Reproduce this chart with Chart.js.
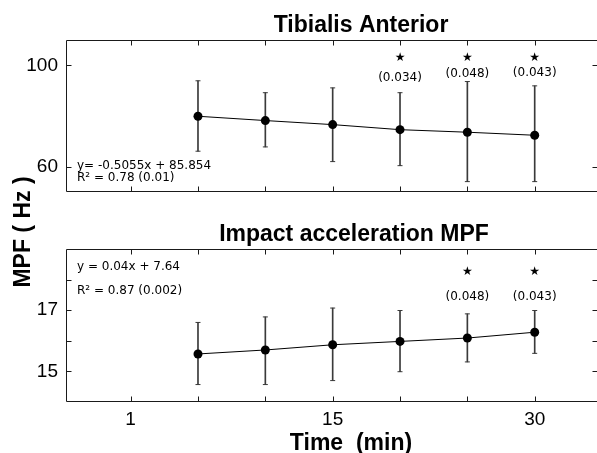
<!DOCTYPE html>
<html>
<head>
<meta charset="utf-8">
<script src="https://cdn.jsdelivr.net/npm/chart.js@4.4.1/dist/chart.umd.min.js"></script>
<style>
  html, body { margin: 0; padding: 0; background: #fff; }
  #wrap { position: relative; width: 597px; height: 453px; overflow: hidden; background: #fff; }
  #wrap canvas { position: absolute; left: 0; top: 0; }
</style>
</head>
<body>
<div id="wrap">
  <canvas id="tibialis" width="603" height="453"></canvas>
  <canvas id="impact" width="603" height="453"></canvas>
</div>
<script>
// Sampling times (min) and the shared time axis ticks
const timeMin = [5, 10, 15, 20, 25, 30];
const xTickValues = [0, 5, 10, 15, 20, 25, 30];
const xTickLabels = ['1', '', '', '15', '', '', '30'];

// Tibialis anterior MPF (Hz): mean and error-bar limits
const taMean = [79.9, 78.2, 76.6, 74.6, 73.6, 72.4];
const taHigh = [93.9, 89.2, 91.1, 89.2, 93.6, 91.9];
const taLow  = [66.1, 67.8, 62.0, 60.4, 54.1, 54.1];
const taTickValues = [60, 100];
const taTickLabels = ['60', '100'];
const taPValues = [null, null, null, '(0.034)', '(0.048)', '(0.043)'];

// Impact acceleration MPF (Hz): mean and error-bar limits
const iaMean = [15.57, 15.70, 15.87, 15.98, 16.09, 16.28];
const iaHigh = [16.60, 16.78, 17.07, 16.99, 16.88, 16.99];
const iaLow  = [14.57, 14.57, 14.70, 14.99, 15.31, 15.59];
const iaTickValues = [15, 16, 17, 18];
const iaTickLabels = ['15', '', '17', ''];
const iaPValues = [null, null, null, null, '(0.048)', '(0.043)'];

Chart.defaults.font.family = '"Liberation Sans", Arial, Helvetica, sans-serif';
Chart.defaults.color = '#000';

const SMALL_FONT = '12px "DejaVu Sans", sans-serif';
const BIG_BOLD = 'bold 23px "Liberation Sans", Arial, sans-serif';

// Open frame (right edge runs off the page) with inward tick marks,
// titles, regression text and significance marks
function panelDecor(cfg) {
  return {
    id: 'panelDecor',
    afterDraw(chart) {
      const { ctx, chartArea: a } = chart;
      const xs = chart.scales.x, ys = chart.scales.y;
      const L = Math.round(a.left) + 0.5, R = Math.round(a.right) - 0.5;
      const T = Math.round(a.top) + 0.5, B = Math.round(a.bottom) - 0.5;
      ctx.save();
      ctx.strokeStyle = '#1a1a1a';
      ctx.lineWidth = 1;
      ctx.beginPath();
      ctx.moveTo(R + 4, T); ctx.lineTo(L, T); ctx.lineTo(L, B); ctx.lineTo(R + 4, B);
      xTickValues.forEach(v => {
        const px = Math.round(xs.getPixelForValue(v)) + 0.5;
        ctx.moveTo(px, T); ctx.lineTo(px, T + 5);
        ctx.moveTo(px, B); ctx.lineTo(px, B - 5);
      });
      cfg.yTicks.forEach(v => {
        const py = Math.round(ys.getPixelForValue(v)) + 0.5;
        ctx.moveTo(L, py); ctx.lineTo(L + 5, py);
        ctx.moveTo(R, py); ctx.lineTo(R - 5, py);
      });
      ctx.stroke();

      ctx.fillStyle = '#000';
      // panel title
      ctx.font = BIG_BOLD;
      ctx.textAlign = 'center';
      ctx.textBaseline = 'alphabetic';
      ctx.fillText(cfg.title.text, cfg.title.x, cfg.title.y);

      // regression equation and R²
      ctx.font = SMALL_FONT;
      ctx.textAlign = 'left';
      cfg.notes.forEach(n => ctx.fillText(n.text, n.x, n.y));

      // significance stars and p-values above the points
      ctx.textAlign = 'center';
      ctx.textBaseline = 'middle';
      cfg.pValues.forEach((p, i) => {
        if (!p) return;
        const px = xs.getPixelForValue(timeMin[i]);
        ctx.font = '12px "DejaVu Sans", sans-serif';
        ctx.fillText('\u2605', px, ys.getPixelForValue(cfg.starY));
        ctx.font = SMALL_FONT;
        ctx.fillText(p, px, ys.getPixelForValue(cfg.labelY[i]));
      });

      // axis titles
      if (cfg.xTitle) {
        ctx.font = BIG_BOLD;
        ctx.textBaseline = 'alphabetic';
        ctx.fillText(cfg.xTitle.text, cfg.xTitle.x, cfg.xTitle.y);
      }
      if (cfg.yTitle) {
        ctx.font = BIG_BOLD;
        ctx.textBaseline = 'alphabetic';
        ctx.translate(cfg.yTitle.x, cfg.yTitle.y);
        ctx.rotate(-Math.PI / 2);
        ctx.fillText(cfg.yTitle.text, 0, 0);
      }
      ctx.restore();
    }
  };
}

function panelDatasets(mean, high, low) {
  return [
    {
      type: 'line',
      data: timeMin.map((t, i) => ({ x: t, y: mean[i] })),
      borderColor: '#000',
      borderWidth: 1,
      pointRadius: 4.5,
      pointBackgroundColor: '#000',
      pointBorderWidth: 0,
      tension: 0,
      order: 0
    },
    {
      type: 'bar',
      data: timeMin.map((t, i) => ({ x: t, y: [low[i], high[i]] })),
      backgroundColor: '#3a3a3a',
      barThickness: 1,
      borderWidth: 0,
      order: 2
    },
    {
      type: 'scatter',
      data: timeMin.map((t, i) => ({ x: t, y: high[i] }))
        .concat(timeMin.map((t, i) => ({ x: t, y: low[i] }))),
      pointStyle: 'line',
      pointRadius: 2.5,
      borderColor: '#3a3a3a',
      borderWidth: 1,
      showLine: false,
      order: 1
    }
  ];
}

function yScale(min, max, values, labels) {
  return {
    type: 'linear',
    position: 'left',
    min: min,
    max: max,
    afterBuildTicks: s => { s.ticks = values.map(v => ({ value: v })); },
    afterFit: s => { s.width = 66; },
    grid: { display: false, drawTicks: false },
    border: { display: false },
    ticks: {
      padding: 8,
      font: { size: 19 },
      color: '#000',
      callback: v => { const k = values.indexOf(v); return k >= 0 ? labels[k] : ''; }
    }
  };
}

const X_MIN = -4.8, X_MAX = 34.7;

new Chart(document.getElementById('tibialis'), {
  type: 'scatter',
  data: { datasets: panelDatasets(taMean, taHigh, taLow) },
  options: {
    responsive: false,
    animation: false,
    devicePixelRatio: 1,
    layout: { padding: { top: 40, bottom: 261, left: 0, right: 3 } },
    plugins: { legend: { display: false }, tooltip: { enabled: false } },
    scales: {
      x: { type: 'linear', min: X_MIN, max: X_MAX, offset: false, display: false },
      y: yScale(50, 110, taTickValues, taTickLabels)
    }
  },
  plugins: [panelDecor({
    yTicks: taTickValues,
    title: { text: 'Tibialis Anterior', x: 361, y: 32 },
    notes: [
      { text: 'y= -0.5055x + 85.854', x: 77, y: 169 },
      { text: 'R\u00B2 = 0.78 (0.01)', x: 77, y: 181 }
    ],
    pValues: taPValues,
    starY: 102.9,
    labelY: [null, null, null, 95.0, 96.6, 97.0],
    yTitle: { text: 'MPF ( Hz )', x: 30, y: 232 }
  })]
});

new Chart(document.getElementById('impact'), {
  type: 'scatter',
  data: { datasets: panelDatasets(iaMean, iaHigh, iaLow) },
  options: {
    responsive: false,
    animation: false,
    devicePixelRatio: 1,
    layout: { padding: { top: 249, bottom: 0, left: 0, right: 3 } },
    plugins: { legend: { display: false }, tooltip: { enabled: false } },
    scales: {
      x: {
        type: 'linear',
        min: X_MIN,
        max: X_MAX,
        offset: false,
        afterBuildTicks: s => { s.ticks = xTickValues.map(v => ({ value: v })); },
        afterFit: s => { s.height = 51; },
        grid: { display: false, drawTicks: false, offset: false },
        border: { display: false },
        ticks: {
          padding: 6,
          autoSkip: false,
          maxRotation: 0,
          font: { size: 19 },
          color: '#000',
          callback: v => { const k = xTickValues.indexOf(v); return k >= 0 ? xTickLabels[k] : ''; }
        }
      },
      y: yScale(14, 19, iaTickValues, iaTickLabels)
    }
  },
  plugins: [panelDecor({
    yTicks: iaTickValues,
    title: { text: 'Impact acceleration MPF', x: 354, y: 241 },
    notes: [
      { text: 'y = 0.04x + 7.64', x: 77, y: 270 },
      { text: 'R\u00B2 = 0.87 (0.002)', x: 77, y: 294 }
    ],
    pValues: iaPValues,
    starY: 18.25,
    labelY: [null, null, null, null, 17.43, 17.43],
    xTitle: { text: 'Time  (min)', x: 351, y: 450 }
  })]
});
</script>
</body>
</html>
